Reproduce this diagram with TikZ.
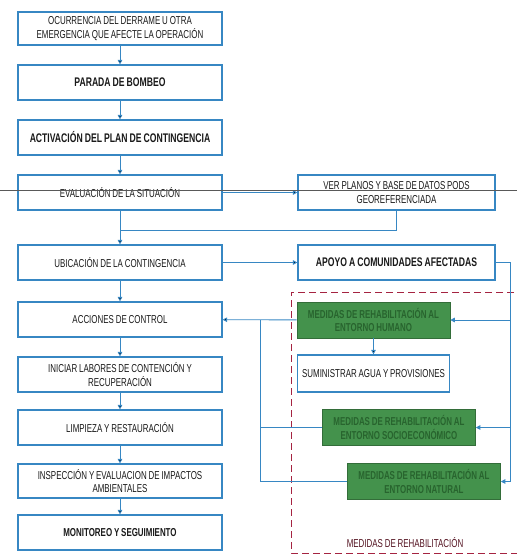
\documentclass[tikz,border=0pt]{standalone}
\usepackage{fontspec}
\newfontfamily\cajafont[FakeStretch=0.69,WordSpace=0.85]{Liberation Sans}
\usepackage{tikz}
\usetikzlibrary{arrows.meta,positioning}

\definecolor{azul}{RGB}{55,135,195}
\definecolor{verde}{RGB}{68,146,76}
\definecolor{verdeosc}{RGB}{40,100,46}
\definecolor{granate}{RGB}{165,35,65}

\tikzset{
  caja/.style={draw=azul,line width=1.2pt,fill=white,minimum width=204pt,minimum height=35pt,
    align=center,inner sep=1pt,text=black!90,font=\cajafont\fontsize{11.5}{13.5}\selectfont},
  fuerte/.style={font=\cajafont\bfseries\fontsize{12.5}{14}\selectfont},
  cajader/.style={caja,minimum width=197pt},
  medida/.style={caja,draw=verde!75!black,line width=0.6pt,fill=verde,text=verdeosc,minimum width=153pt,minimum height=36pt,
    font=\cajafont\bfseries\fontsize{11.5}{13.5}\selectfont},
  linea/.style={draw=azul,line width=0.9pt},
}

\begin{document}
\begin{tikzpicture}[x=1pt,y=1pt,node distance=54pt,on grid,
    >={Triangle[length=4.5pt,width=4.5pt]}]
  \useasboundingbox (0,0) rectangle (517,-558);
  % zona de medidas
  \draw[granate,dashed,dash pattern=on 7pt off 4pt,line width=0.8pt]
    (514,-292) -- (291,-292) -- (291,-553) -- (517,-553);
  \node[font=\cajafont\fontsize{11.5}{13}\selectfont,text=granate!50!black] (rotulo) at (405,-543) {MEDIDAS DE REHABILITACIÓN};

  % columna principal
  \node[caja,minimum height=33pt] (ocurr) at (120,-28.5) {OCURRENCIA DEL DERRAME U OTRA\\EMERGENCIA QUE AFECTE LA OPERACIÓN};
  \node[caja,fuerte] (parada) [below=of ocurr] {PARADA DE BOMBEO};
  \node[caja,fuerte] (activ) [below=55pt of parada] {ACTIVACIÓN DEL PLAN DE CONTINGENCIA};
  \node[caja] (eval) [below=55pt of activ] {EVALUACIÓN DE LA SITUACIÓN};
  \node[caja] (ubic) [below=70pt of eval] {UBICACIÓN DE LA CONTINGENCIA};
  \node[caja] (acciones) [below=57pt of ubic] {ACCIONES DE CONTROL};
  \node[caja] (iniciar) [below=55pt of acciones] {INICIAR LABORES DE CONTENCIÓN Y\\RECUPERACIÓN};
  \node[caja] (limpieza) [below=53pt of iniciar] {LIMPIEZA Y RESTAURACIÓN};
  \node[caja,minimum height=34pt] (inspecc) [below=53.5pt of limpieza] {INSPECCIÓN Y EVALUACION DE IMPACTOS\\AMBIENTALES};
  \node[caja] (monitoreo) [below=51.5pt of inspecc] {\textbf{MONITOREO Y SEGUIMIENTO}};

  % columna derecha
  \node[cajader] (planos) [right=276.5pt of eval] {VER PLANOS Y BASE DE DATOS PODS\\GEOREFERENCIADA};
  \node[cajader,fuerte] (apoyo) [below=70pt of planos] {APOYO A COMUNIDADES AFECTADAS};
  \node[medida] (humano) at (373.5,-320) {MEDIDAS DE REHABILITACIÓN AL\\ENTORNO HUMANO};
  \node[caja,minimum width=152pt,minimum height=37pt] (suministro) [below=53.5pt of humano] {SUMINISTRAR AGUA Y PROVISIONES};
  \node[medida] (socio) at (399,-427.5) {MEDIDAS DE REHABILITACIÓN AL\\ENTORNO SOCIOECONÓMICO};
  \node[medida] (natural) at (424,-481.5) {MEDIDAS DE REHABILITACIÓN AL\\ENTORNO NATURAL};

  \coordinate[below=37.5pt of eval] (junta);
  \coordinate[right=15pt of apoyo.east] (bajada);
  \coordinate (bus) at (260,-320);

  \path[->,linea]
    (ocurr) edge (parada)
    (parada) edge (activ)
    (activ) edge (eval)
    (eval) edge (planos)
    (eval) edge (ubic)
    (ubic) edge (apoyo)
    (ubic) edge (acciones)
    (acciones) edge (iniciar)
    (iniciar) edge (limpieza)
    (limpieza) edge (inspecc)
    (inspecc) edge (monitoreo)
    (humano) edge (suministro)
    (humano) edge (acciones)
    ;
  \draw[linea] (planos.south) |- (junta);
  \draw[linea,->] (apoyo.east) -- (bajada) |- (humano.east);
  \draw[linea,->] (bajada) |- (socio.east);
  \draw[linea,->] (bajada) |- (natural.east);
  \draw[linea] (socio.west) -| (bus);
  \draw[linea] (natural.west) -| (bus);

  % trazo del escaneo
  \draw[black!65,line width=0.4pt] (0,-190) -- (517,-190);
\end{tikzpicture}
\end{document}
